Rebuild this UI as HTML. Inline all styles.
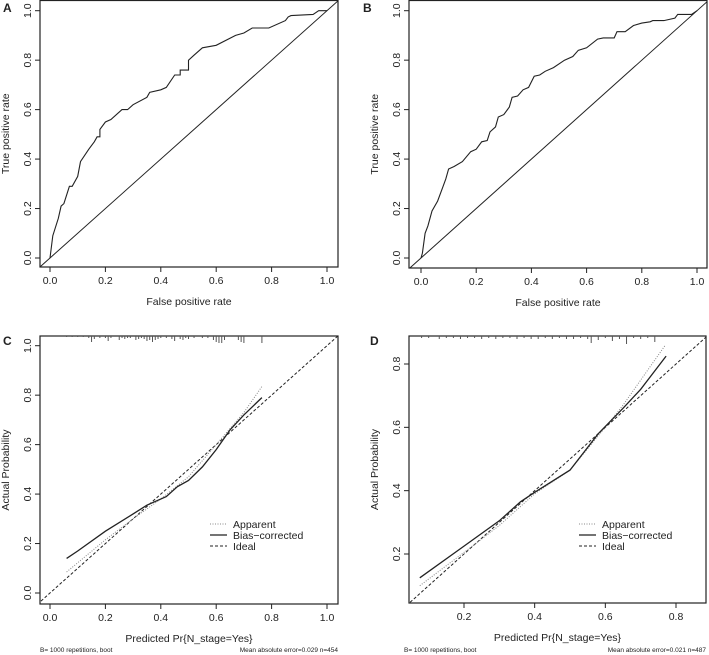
<!DOCTYPE html>
<html><head><meta charset="utf-8">
<style>
html,body{margin:0;padding:0;background:#fff;}
svg{display:block;font-family:"Liberation Sans",Arial,sans-serif;}
</style></head>
<body>
<svg id="fig" width="709" height="655" viewBox="0 0 709 655" xmlns="http://www.w3.org/2000/svg"></svg>
<script>
// ---- Data ----
const rocA_fpr=[0,0.01,0.03,0.04,0.05,0.07,0.08,0.1,0.11,0.14,0.16,0.17,0.18,0.18,0.2,0.22,0.26,0.28,0.3,0.35,0.36,0.4,0.42,0.45,0.47,0.47,0.5,0.5,0.52,0.55,0.6,0.67,0.7,0.73,0.76,0.79,0.85,0.86,0.87,0.95,0.97,1];
const rocA_tpr=[0,0.09,0.16,0.21,0.22,0.29,0.29,0.33,0.39,0.44,0.47,0.49,0.49,0.52,0.55,0.56,0.6,0.6,0.62,0.65,0.67,0.68,0.69,0.74,0.74,0.76,0.76,0.8,0.82,0.85,0.86,0.9,0.91,0.93,0.93,0.93,0.96,0.975,0.98,0.985,1,1];
const rocB_fpr=[0,0.005,0.015,0.025,0.04,0.06,0.08,0.09,0.1,0.12,0.15,0.18,0.2,0.22,0.24,0.25,0.27,0.28,0.3,0.32,0.33,0.35,0.37,0.39,0.41,0.43,0.45,0.48,0.52,0.55,0.57,0.6,0.64,0.66,0.7,0.71,0.74,0.77,0.8,0.83,0.84,0.88,0.92,0.93,0.98,1];
const rocB_tpr=[0,0.02,0.1,0.13,0.19,0.23,0.29,0.32,0.36,0.37,0.39,0.43,0.44,0.47,0.475,0.51,0.53,0.57,0.58,0.61,0.65,0.655,0.68,0.69,0.735,0.74,0.755,0.77,0.8,0.815,0.84,0.85,0.885,0.89,0.89,0.915,0.915,0.94,0.95,0.955,0.96,0.96,0.97,0.985,0.985,1];
const calC_biasX=[0.06,0.1,0.2,0.3,0.35,0.42,0.46,0.5,0.55,0.6,0.65,0.7,0.765];
const calC_biasY=[0.14,0.17,0.25,0.32,0.355,0.39,0.43,0.455,0.51,0.58,0.66,0.72,0.79];
const calC_appX=[0.06,0.2,0.3,0.4,0.5,0.6,0.7,0.765];
const calC_appY=[0.085,0.215,0.3,0.38,0.47,0.6,0.73,0.835];
const calC_rug=[0.06,0.08,0.1,0.12,0.14,0.15,0.16,0.18,0.2,0.21,0.22,0.25,0.26,0.27,0.28,0.29,0.31,0.32,0.33,0.34,0.35,0.36,0.37,0.38,0.39,0.4,0.42,0.44,0.45,0.47,0.48,0.49,0.5,0.52,0.55,0.57,0.59,0.6,0.61,0.62,0.63,0.68,0.69,0.7,0.765];
const calC_rugLen=[1,1,1,1,2,6,3,2,2,5,2,4,2,3,2,2,4,3,2,3,5,4,6,4,3,2,2,3,5,3,4,2,3,2,2,2,4,6,7,7,4,4,6,7,7];
const calD_biasX=[0.075,0.2,0.3,0.36,0.4,0.5,0.58,0.65,0.7,0.772];
const calD_biasY=[0.125,0.225,0.305,0.365,0.395,0.465,0.58,0.66,0.72,0.825];
const calD_appX=[0.075,0.2,0.3,0.4,0.5,0.6,0.65,0.77];
const calD_appY=[0.1,0.205,0.29,0.39,0.465,0.6,0.67,0.86];
const calD_rug=[0.08,0.1,0.13,0.15,0.17,0.19,0.21,0.23,0.25,0.27,0.29,0.31,0.33,0.35,0.37,0.39,0.41,0.43,0.45,0.47,0.49,0.51,0.53,0.55,0.56,0.58,0.6,0.62,0.64,0.66,0.68,0.7,0.72,0.74];
const calD_rugLen=[2,2,3,2,2,3,2,2,3,2,3,2,2,3,2,3,3,2,3,2,3,3,2,3,7,4,2,5,3,8,2,3,2,6];
const xTicks01=[0,0.2,0.4,0.6,0.8,1.0];
const xTicksD=[0.2,0.4,0.6,0.8];
const yTicksD=[0.2,0.4,0.6,0.8];

const svg=document.getElementById('fig');
const NS='http://www.w3.org/2000/svg';
function mk(tag,attrs,parent){const e=document.createElementNS(NS,tag);for(const k in attrs)e.setAttribute(k,attrs[k]);(parent||svg).appendChild(e);return e;}
function txt(s,x,y,size,parent,extra){const t=mk('text',Object.assign({x:x,y:y,'font-size':size,'text-anchor':'middle',fill:'#222'},extra||{}),parent);t.textContent=s;return t;}
function fmt(v){return v.toFixed(1);}

function panel(o){
  const g=mk('g',{});
  
  
  const sx=v=>o.px0+(v-o.x0)*(o.px1-o.px0)/(o.x1-o.x0);
  const sy=v=>o.py0+(v-o.y0)*(o.py1-o.py0)/(o.y1-o.y0);
  const box=mk('rect',{x:o.bl,y:o.bt,width:o.br-o.bl,height:o.bb-o.bt,fill:'none',stroke:'#222','stroke-width':1.2},g);
  
  
  o.xt.forEach(v=>{
    mk('line',{x1:sx(v),x2:sx(v),y1:o.bb,y2:o.bb+5,stroke:'#222'},g);
    const t=txt(fmt(v),sx(v),o.bb+17,10.5,g);
    
    
  });
  o.yt.forEach(v=>{
    mk('line',{x1:o.bl-5,x2:o.bl,y1:sy(v),y2:sy(v),stroke:'#222'},g);
    const t=txt(fmt(v),0,0,10.5,g,{transform:`translate(${o.bl-9},${sy(v)}) rotate(-90)`});
    
    
  });
  const xtl=txt(o.xlab,(o.bl+o.br)/2,o.bb+38,10.5,g);
  
  
  const ytl=txt(o.ylab,0,0,10.5,g,{transform:`translate(${o.bl-31},${(o.bt+o.bb)/2}) rotate(-90)`});
  
  
  const pl=txt(o.label,o.lx,o.ly,12,g,{'font-weight':'bold','text-anchor':'start'});
  
  
  const cp='cp'+o.label;
  const c=mk('clipPath',{id:cp},g);mk('rect',{x:o.bl,y:o.bt,width:o.br-o.bl,height:o.bb-o.bt},c);
  const pg=mk('g',{'clip-path':`url(#${cp})`},g);
  return {g,pg,sx,sy};
}
function poly(xs,ys,P,attrs,name){
  const pts=xs.map((x,i)=>P.sx(x).toFixed(1)+','+P.sy(ys[i]).toFixed(1)).join(' ');
  const p=mk('polyline',Object.assign({points:pts,fill:'none'},attrs),P.pg);
  
  
}
function diag(P,lo,hi,attrs,name){
  const l=mk('line',Object.assign({x1:P.sx(lo),y1:P.sy(lo),x2:P.sx(hi),y2:P.sy(hi)},attrs),P.pg);
  
  
}
function rug(P,xs,ls,top){
  xs.forEach((x,i)=>{
    const l=mk('line',{x1:P.sx(x),x2:P.sx(x),y1:top,y2:top+ls[i],stroke:'#555','stroke-width':1},P.pg);
    
    
  });
}
function legend(g,x,y){
  const items=[['Apparent',{stroke:'#888','stroke-dasharray':'1,1.5'}],['Bias\u2212corrected',{stroke:'#222','stroke-width':1.3}],['Ideal',{stroke:'#222','stroke-dasharray':'3,2'}]];
  items.forEach((it,i)=>{
    const yy=y+i*11;
    const e=mk('g',{},g);
    
    
    mk('line',Object.assign({x1:x,x2:x+17,y1:yy,y2:yy,'stroke-width':1},it[1]),e);
    txt(it[0],x+23,yy+4,10.5,e,{'text-anchor':'start'});
  });
}

// Panel A
const A=panel({name:'roc-panel-a',label:'A',lx:3,ly:12,bl:40,br:338,bt:0.5,bb:267,px0:50,px1:327,x0:0,x1:1,py0:258,py1:10.7,y0:0,y1:1,xt:xTicks01,yt:xTicks01,xlab:'False positive rate',ylab:'True positive rate'});
diag(A,-0.1,1.1,{stroke:'#222','stroke-width':1},'reference-diagonal');
poly(rocA_fpr,rocA_tpr,A,{stroke:'#222','stroke-width':1.1},'roc-curve');
// Panel B
const B=panel({name:'roc-panel-b',label:'B',lx:363,ly:12,bl:409,br:707,bt:0.5,bb:268,px0:421,px1:697,x0:0,x1:1,py0:258,py1:10.7,y0:0,y1:1,xt:xTicks01,yt:xTicks01,xlab:'False positive rate',ylab:'True positive rate'});
diag(B,-0.1,1.1,{stroke:'#222','stroke-width':1},'reference-diagonal');
poly(rocB_fpr,rocB_tpr,B,{stroke:'#222','stroke-width':1.1},'roc-curve');
// Panel C
const C=panel({name:'calibration-panel-c',label:'C',lx:3,ly:345,bl:40,br:338,bt:336,bb:604,px0:50,px1:327,x0:0,x1:1,py0:593,py1:345.7,y0:0,y1:1,xt:xTicks01,yt:xTicks01,xlab:'Predicted Pr{N_stage=Yes}',ylab:'Actual Probability'});
diag(C,-0.1,1.1,{stroke:'#222','stroke-width':1,'stroke-dasharray':'3,2'},'ideal-line');
poly(calC_appX,calC_appY,C,{stroke:'#888','stroke-width':1,'stroke-dasharray':'1,1.5'},'apparent-line');
poly(calC_biasX,calC_biasY,C,{stroke:'#222','stroke-width':1.3},'bias-corrected-line');
rug(C,calC_rug,calC_rugLen,336);
legend(C.g,210,524);
let t=txt('B= 1000 repetitions, boot',40,652,6.5,C.g,{'text-anchor':'start'});

t=txt('Mean absolute error=0.029 n=454',338,652,6.5,C.g,{'text-anchor':'end'});

// Panel D
const D=panel({name:'calibration-panel-d',label:'D',lx:370,ly:345,bl:409,br:706,bt:336,bb:603,px0:464,px1:676,x0:0.2,x1:0.8,py0:554,py1:364,y0:0.2,y1:0.8,xt:xTicksD,yt:yTicksD,xlab:'Predicted Pr{N_stage=Yes}',ylab:'Actual Probability'});
diag(D,-0.1,1.1,{stroke:'#222','stroke-width':1,'stroke-dasharray':'3,2'},'ideal-line');
poly(calD_appX,calD_appY,D,{stroke:'#888','stroke-width':1,'stroke-dasharray':'1,1.5'},'apparent-line');
poly(calD_biasX,calD_biasY,D,{stroke:'#222','stroke-width':1.3},'bias-corrected-line');
rug(D,calD_rug,calD_rugLen,336);
legend(D.g,579,524);
t=txt('B= 1000 repetitions, boot',404,652,6.5,D.g,{'text-anchor':'start'});

t=txt('Mean absolute error=0.021 n=487',706,652,6.5,D.g,{'text-anchor':'end'});

</script>
</body></html>
